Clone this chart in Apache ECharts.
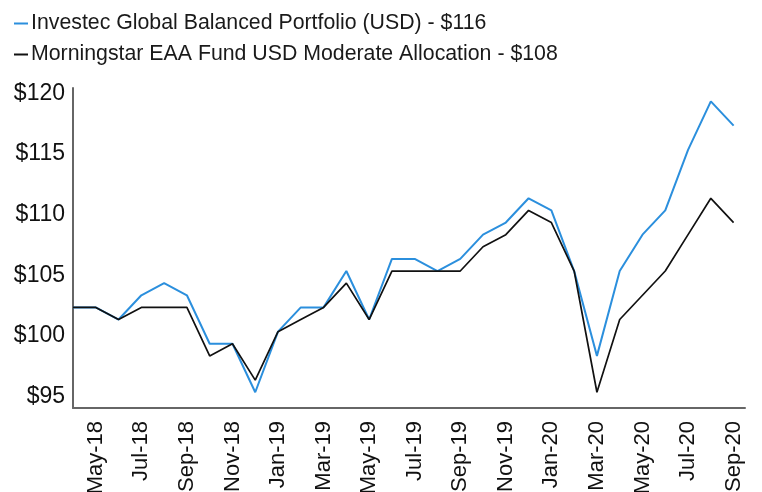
<!DOCTYPE html>
<html>
<head>
<meta charset="utf-8">
<script src="https://cdn.jsdelivr.net/npm/echarts@6/dist/echarts.min.js"></script>
<style>
  html, body { margin: 0; padding: 0; background: #fff; }
  #chart { width: 762px; height: 492px; }
</style>
</head>
<body>
<div id="chart"></div>
<script>
// monthly values, growth of $100
const months = ['Apr-18', 'May-18', 'Jun-18', 'Jul-18', 'Aug-18', 'Sep-18', 'Oct-18', 'Nov-18', 'Dec-18',
    'Jan-19', 'Feb-19', 'Mar-19', 'Apr-19', 'May-19', 'Jun-19', 'Jul-19', 'Aug-19', 'Sep-19', 'Oct-19',
    'Nov-19', 'Dec-19', 'Jan-20', 'Feb-20', 'Mar-20', 'Apr-20', 'May-20', 'Jun-20', 'Jul-20', 'Aug-20', 'Sep-20'];
const fundName = 'Investec Global Balanced Portfolio (USD)';
const fundValues = [101, 101, 100, 102, 103, 102, 98, 98, 94, 99, 101, 101, 104, 100, 105,
    105, 104, 105, 107, 108, 110, 109, 104, 97, 104, 107, 109, 114, 118, 116];
const benchName = 'Morningstar EAA Fund USD Moderate Allocation';
const benchValues = [101, 101, 100, 101, 101, 101, 97, 98, 95, 99, 100, 101, 103, 100, 104,
    104, 104, 104, 106, 107, 109, 108, 104, 94, 100, 102, 104, 107, 110, 108];
const yTicks = [95, 100, 105, 110, 115, 120];

const font = '"Liberation Sans", Arial, sans-serif';
const yMin = 92.7, yMax = 119.1;
const labelShift = 1.35; // labels sit a bit below their value in the original

const lastOf = {};
lastOf[fundName] = fundValues[fundValues.length - 1];
lastOf[benchName] = benchValues[benchValues.length - 1];

const toPoints = (vals) => vals.map((v, i) => [i, v]);
const labelIdx = months.map((m, i) => i).filter(i => i % 2 === 1);

const chart = echarts.init(document.getElementById('chart'), null, { renderer: 'canvas' });
chart.setOption({
    animation: false,
    backgroundColor: '#fff',
    textStyle: { fontFamily: font },
    legend: {
        orient: 'vertical',
        left: 14,
        top: 13,
        padding: 0,
        icon: 'rect',
        itemWidth: 14,
        itemHeight: 2,
        itemGap: 10,
        textStyle: { fontSize: 21.3, color: '#1a1a1a', fontFamily: font, padding: [0, 0, 0, -2] },
        formatter: (name) => name + ' - $' + lastOf[name],
        data: [fundName, benchName],
    },
    grid: { left: 73, right: 17, top: 88, bottom: 84, containLabel: false, outerBoundsMode: 'none' },
    xAxis: {
        type: 'value',
        min: 0,
        max: months.length - 0.5,
        splitLine: { show: false },
        axisTick: { show: false },
        axisLine: { show: true, onZero: false, lineStyle: { color: '#666', width: 2 } },
        axisLabel: {
            customValues: labelIdx,
            formatter: (v) => months[v],
            rotate: 90,
            margin: 13,
            fontSize: 22,
            color: '#111',
            fontFamily: font,
        },
    },
    yAxis: [{
        type: 'value',
        min: yMin,
        max: yMax,
        splitLine: { show: false },
        axisTick: { show: false },
        axisLabel: { show: false },
        axisLine: { show: true, lineStyle: { color: '#666', width: 2 } },
    }, {
        type: 'value',
        position: 'left',
        min: yMin + labelShift,
        max: yMax + labelShift,
        splitLine: { show: false },
        axisTick: { show: false },
        axisLine: { show: false },
        axisLabel: {
            customValues: yTicks,
            formatter: (v) => '$' + v,
            margin: 8,
            fontSize: 23,
            color: '#111',
            fontFamily: font,
        },
    }],
    series: [{
        name: fundName,
        type: 'line',
        data: toPoints(fundValues),
        showSymbol: false,
        symbol: 'none',
        color: '#2b8fdd',
        lineStyle: { width: 2, color: '#2b8fdd' },
    }, {
        name: benchName,
        type: 'line',
        data: toPoints(benchValues),
        showSymbol: false,
        symbol: 'none',
        color: '#111',
        lineStyle: { width: 1.7, color: '#111' },
    }],
});
</script>
</body>
</html>
